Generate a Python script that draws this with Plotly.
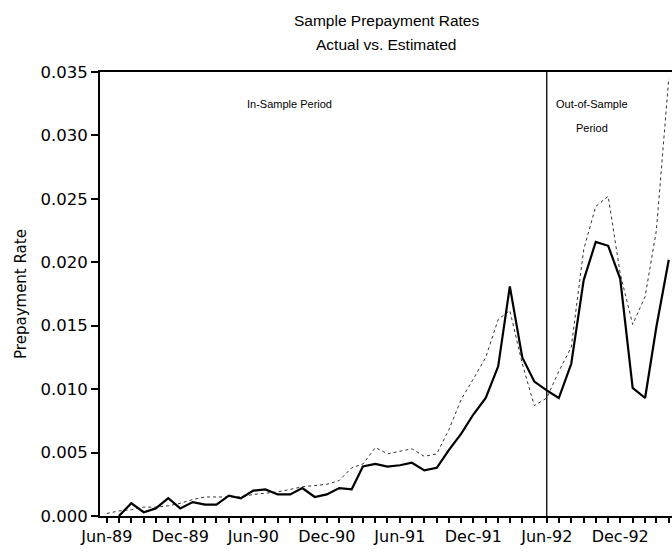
import plotly.graph_objects as go

months = [
    "1989-06-01", "1989-07-01", "1989-08-01", "1989-09-01", "1989-10-01", "1989-11-01",
    "1989-12-01", "1990-01-01", "1990-02-01", "1990-03-01", "1990-04-01", "1990-05-01",
    "1990-06-01", "1990-07-01", "1990-08-01", "1990-09-01", "1990-10-01", "1990-11-01",
    "1990-12-01", "1991-01-01", "1991-02-01", "1991-03-01", "1991-04-01", "1991-05-01",
    "1991-06-01", "1991-07-01", "1991-08-01", "1991-09-01", "1991-10-01", "1991-11-01",
    "1991-12-01", "1992-01-01", "1992-02-01", "1992-03-01", "1992-04-01", "1992-05-01",
    "1992-06-01", "1992-07-01", "1992-08-01", "1992-09-01", "1992-10-01", "1992-11-01",
    "1992-12-01", "1993-01-01", "1993-02-01", "1993-03-01", "1993-04-01",
]

actual = [
    None, 0.0000, 0.0010, 0.0003, 0.0006, 0.0014,
    0.0006, 0.0011, 0.0009, 0.0009, 0.0016, 0.0014,
    0.0020, 0.0021, 0.0017, 0.0017, 0.0022, 0.0015,
    0.0017, 0.0022, 0.0021, 0.0039, 0.0041, 0.0039,
    0.0040, 0.0042, 0.0036, 0.0038, 0.0052, 0.0065,
    0.0080, 0.0093, 0.0118, 0.0181, 0.0125, 0.0106,
    0.0099, 0.0093, 0.0120, 0.0186, 0.0216, 0.0213,
    0.0187, 0.0101, 0.0093, 0.0149, 0.0202,
]

estimated = [
    0.0002, 0.0004, 0.0005, 0.0007, 0.0007, 0.0008,
    0.0010, 0.0013, 0.0015, 0.0015, 0.0015, 0.0015,
    0.0017, 0.0018, 0.0019, 0.0021, 0.0023, 0.0024,
    0.0025, 0.0028, 0.0038, 0.0041, 0.0054, 0.0049,
    0.0051, 0.0053, 0.0047, 0.0049, 0.0068, 0.0092,
    0.0108, 0.0125, 0.0155, 0.0162, 0.0120, 0.0087,
    0.0093, 0.0114, 0.0133, 0.0210, 0.0244, 0.0252,
    0.0191, 0.0151, 0.0173, 0.0225, 0.0345,
]

split_date = "1992-06-01"
title_lines = ["Sample Prepayment Rates", "Actual vs. Estimated"]
y_title = "Prepayment Rate"
in_label = "In-Sample Period"
out_labels = ["Out-of-Sample", "Period"]

FONT = "DejaVu Sans"
TFONT = "Liberation Sans"

fig = go.Figure()
fig.add_trace(go.Scatter(
    x=months, y=estimated, mode="lines", name="Estimated",
    line=dict(color="#333333", width=1.0, dash="dot"),
))
fig.add_trace(go.Scatter(
    x=months, y=actual, mode="lines", name="Actual",
    line=dict(color="black", width=2.2),
))

fig.add_shape(type="line", xref="x", yref="y", x0=split_date, x1=split_date,
              y0=0, y1=0.035, line=dict(color="black", width=1.3))

fig.add_annotation(x=0.500, xref="paper", y=1.117, yref="paper", text=title_lines[0],
                   showarrow=False, xanchor="center", yanchor="middle",
                   font=dict(family=TFONT, size=15.5, color="black"))
fig.add_annotation(x=0.500, xref="paper", y=1.061, yref="paper", text=title_lines[1],
                   showarrow=False, xanchor="center", yanchor="middle",
                   font=dict(family=TFONT, size=15.5, color="black"))

fig.add_annotation(x=0.332, xref="paper", y=0.927, yref="paper", text=in_label,
                   showarrow=False, xanchor="center", yanchor="middle",
                   font=dict(family=TFONT, size=11, color="black"))
fig.add_annotation(x=0.860, xref="paper", y=0.927, yref="paper", text=out_labels[0],
                   showarrow=False, xanchor="center", yanchor="middle",
                   font=dict(family=TFONT, size=11, color="black"))
fig.add_annotation(x=0.860, xref="paper", y=0.873, yref="paper", text=out_labels[1],
                   showarrow=False, xanchor="center", yanchor="middle",
                   font=dict(family=TFONT, size=11, color="black"))

fig.update_layout(
    width=672, height=552,
    margin=dict(l=100, r=0, t=72, b=36, autoexpand=False),
    paper_bgcolor="white", plot_bgcolor="white",
    showlegend=False,
    font=dict(family=FONT, color="black"),
)

fig.update_xaxes(
    type="date",
    range=["1989-05-15", "1993-04-09"],
    tickformat="%b-%y",
    dtick="M6", tick0="1989-06-01",
    ticks="outside", ticklen=5, tickwidth=1.5, tickcolor="black",
    minor=dict(dtick="M1", tick0="1989-06-01", ticks="outside", ticklen=5,
               tickwidth=1.5, tickcolor="black", showgrid=False),
    showline=True, linecolor="black", linewidth=2, mirror=True,
    showgrid=False, zeroline=False, automargin=False,
    tickfont=dict(family=FONT, size=16, color="black"),
)
fig.update_yaxes(
    range=[0, 0.035], dtick=0.005, tickformat=".3f",
    ticks="outside", ticklen=7, tickwidth=1.5, tickcolor="black",
    showline=True, linecolor="black", linewidth=2,
    showgrid=False, zeroline=False, automargin=False,
    tickfont=dict(family=FONT, size=16.5, color="black"),
    title=dict(text=y_title, font=dict(family=FONT, size=15, color="black"), standoff=10),
)

fig.write_html(
    "out.html",
    config={"displayModeBar": False},
    post_script="document.body.style.margin='0';document.body.style.padding='0';",
)
